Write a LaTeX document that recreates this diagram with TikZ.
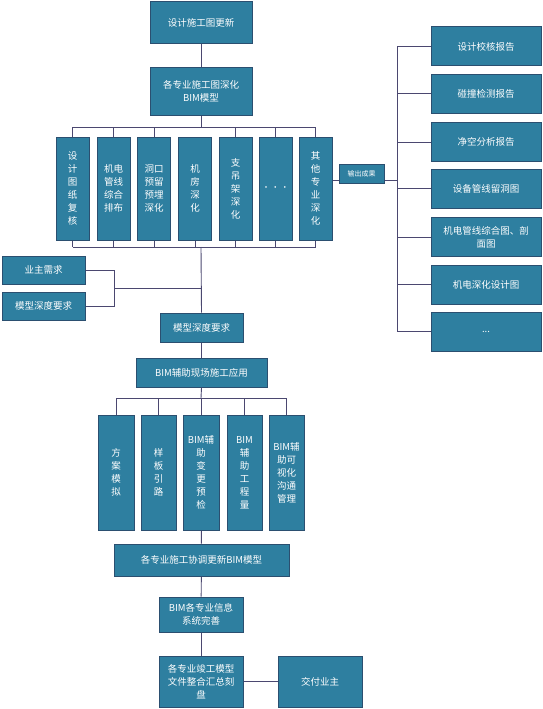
\documentclass[tikz,border=0pt]{standalone}
\usepackage{fontspec}
\setmainfont{Noto Sans CJK SC}
\definecolor{boxfill}{HTML}{2E7FA0}
\definecolor{boxline}{HTML}{2B4F70}
\definecolor{conn}{HTML}{4B4870}
\tikzset{
  box/.style={draw=boxline, line width=1pt, fill=boxfill, text=white, inner sep=1pt, align=center,
    font=\fontsize{9.5}{13}\selectfont},
  smallbox/.style={box, font=\fontsize{7}{9}\selectfont},
  link/.style={draw=conn, line width=0.9pt},
}
\begin{document}
\begin{tikzpicture}[x=1pt,y=-1pt]
\useasboundingbox (0,0) rectangle (543,709);
\coordinate (bus) at (201,127);
\coordinate (busb) at (201,247);
\coordinate (join) at (201,288);
\coordinate (ljoin) at (114,288);
\coordinate (rbus) at (397,180);
\coordinate (dbus) at (201,398);

% top boxes
\node[box, minimum width=102, minimum height=42] (t1) at (201,23) {设计施工图更新};
\node[box, minimum width=102, minimum height=47] (t2) at (201,91.5) {各专业施工图深化\\BIM模型};

% columns
\node[box, minimum width=33, minimum height=103] (c1) at (72.5,188.5) {设\\计\\图\\纸\\复\\核};
\node[box, minimum width=33, minimum height=103] (c2) at (113.5,188.5) {机电\\管线\\综合\\排布};
\node[box, minimum width=33, minimum height=103] (c3) at (154,188.5) {洞口\\预留\\预埋\\深化};
\node[box, minimum width=33, minimum height=103] (c4) at (195,188.5) {机\\房\\深\\化};
\node[box, minimum width=33, minimum height=103] (c5) at (235.5,188.5) {支\\吊\\架\\深\\化};
\node[box, minimum width=33, minimum height=103] (c6) at (275.5,188.5) {{\fontsize{8}{9}\selectfont ·\,·\,·}};
\node[box, minimum width=33, minimum height=103] (c7) at (315.5,188.5) {其\\他\\专\\业\\深\\化};

% right outputs
\node[box, minimum width=110, minimum height=39] (r1) at (486,46.5) {设计校核报告};
\node[box, minimum width=110, minimum height=39] (r2) at (486,93.5) {碰撞检测报告};
\node[box, minimum width=110, minimum height=39] (r3) at (486,142) {净空分析报告};
\node[box, minimum width=110, minimum height=39] (r4) at (486,188.5) {设备管线留洞图};
\node[box, minimum width=110, minimum height=39] (r5) at (486,237) {机电管线综合图、剖\\面图};
\node[box, minimum width=110, minimum height=39] (r6) at (486,284.5) {机电深化设计图};
\node[box, minimum width=110, minimum height=39] (r7) at (486,331.5) {...};

% left requirement boxes
\node[box, minimum width=83, minimum height=28] (l1) at (43.5,270) {业主需求};
\node[box, minimum width=83, minimum height=28] (l2) at (43.5,306) {模型深度要求};

% middle chain
\node[box, minimum width=83, minimum height=29] (m1) at (201.5,327.5) {模型深度要求};
\node[box, minimum width=131, minimum height=29] (m2) at (201.5,372.5) {BIM辅助现场施工应用};

% bottom columns
\node[box, minimum width=36, minimum height=115] (d1) at (116,472.5) {方\\案\\模\\拟};
\node[box, minimum width=35, minimum height=115] (d2) at (158.5,472.5) {样\\板\\引\\路};
\node[box, minimum width=36, minimum height=115] (d3) at (201,472.5) {BIM辅\\助\\变\\更\\预\\检};
\node[box, minimum width=35, minimum height=115] (d4) at (244.5,472.5) {BIM\\辅\\助\\工\\程\\量};
\node[box, minimum width=35, minimum height=115] (d5) at (286.5,472.5) {BIM辅\\助可\\视化\\沟通\\管理};

\node[box, minimum width=175, minimum height=32] (m3) at (201.5,560) {各专业施工协调更新BIM模型};
\node[box, minimum width=84, minimum height=35] (m4) at (201,614.5) {BIM各专业信息\\系统完善};
\node[box, minimum width=84, minimum height=51] (m5) at (201,681.5) {各专业竣工模型\\文件整合汇总刻\\盘};
\node[box, minimum width=84, minimum height=51] (m6) at (320,681.5) {交付业主};

% connectors
\draw[link] (t1) -- (t2);
\draw[link] (t2.south) -- (bus);
\draw[link] (c1.north |- bus) -- (c7.north |- bus);
\foreach \c in {c1,c2,c3,c5,c6,c7} \draw[link] (\c.north) -- (\c.north |- bus);
\draw[link] (c1.south |- busb) -- (c7.south |- busb);
\foreach \c in {c1,c2,c3,c4,c5,c6,c7} \draw[link] (\c.south) -- (\c.south |- busb);
\draw[link] (busb) -- (m1.north);
\draw[link] (l1.east) -| (ljoin);
\draw[link] (l2.east) -| (ljoin);
\draw[link] (ljoin) -- (join);
\draw[link] (m1) -- (m2);
\draw[link] (m2.south) -- (dbus);
\draw[link] (d1.north |- dbus) -- (d5.north |- dbus);
\foreach \d in {d1,d2,d3,d4,d5} \draw[link] (\d.north) -- (\d.north |- dbus);
\draw[link] (d3) -- (m3);
\draw[link] (m3) -- (m4);
\draw[link] (m4) -- (m5);
\draw[link] (m5) -- (m6);
\draw[link] (c7.east |- rbus) -- (rbus);
\draw[link] (rbus |- r1.west) -- (rbus |- r7.west);
\foreach \r in {r1,r2,r3,r4,r5,r6,r7} \draw[link] (rbus |- \r.west) -- (\r.west);
\node[smallbox, minimum width=45, minimum height=19] (out) at (361.5,173.5) {输出成果};
\end{tikzpicture}
\end{document}
